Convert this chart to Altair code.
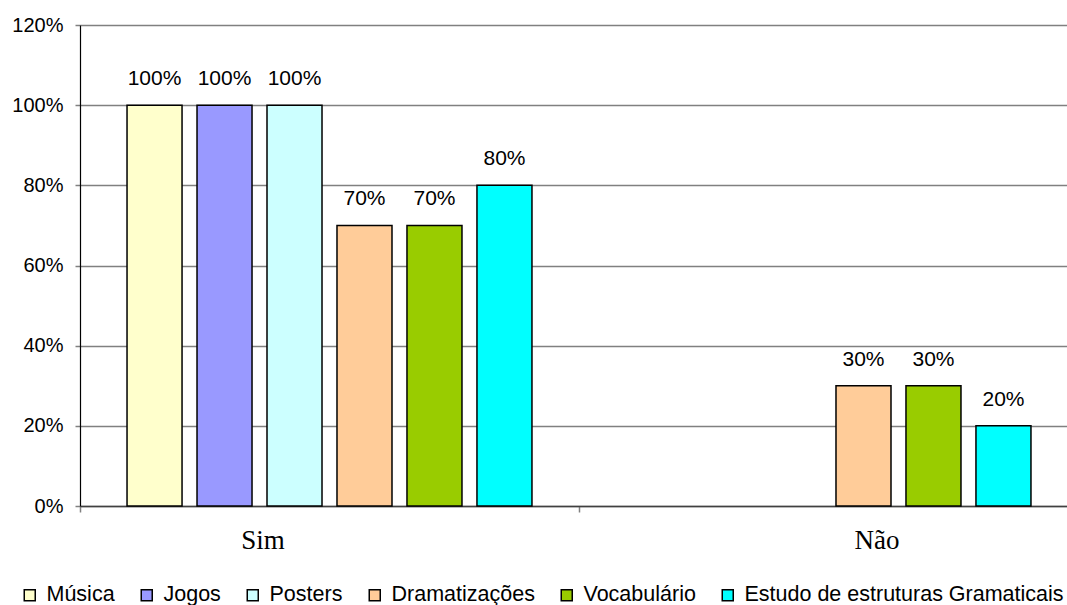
import altair as alt
import pandas as pd

groups = ["Sim", "Não"]
series = ["Música", "Jogos", "Posters", "Dramatizações", "Vocabulário",
          "Estudo de estruturas Gramaticais"]
colors = ["#FFFFCC", "#9999FF", "#CCFFFF", "#FFCC99", "#99CC00", "#00FFFF"]
sim_values = [100, 100, 100, 70, 70, 80]
nao_values = [0, 0, 0, 30, 30, 20]
y_ticks = [0, 20, 40, 60, 80, 100, 120]

rows = []
for g, vals in zip(groups, [sim_values, nao_values]):
    for s, v in zip(series, vals):
        rows.append({"grupo": g, "serie": s, "valor": v})
df = pd.DataFrame(rows)

base = alt.Chart(df).transform_filter("datum.valor > 0").transform_calculate(
    label="datum.valor + '%'"
)

x_enc = alt.X("grupo:N", sort=groups,
              scale=alt.Scale(domain=groups, range=[0, 998], paddingInner=0, paddingOuter=0),
              axis=alt.Axis(title=None, tickBand="extent", labelAngle=0,
                            labelFont="Liberation Serif", labelFontSize=27,
                            labelColor="black", labelBaseline="alphabetic",
                            labelPadding=36, tickSize=6, tickColor="#808080",
                            tickWidth=1.5, domainColor="#404040", domainWidth=1.5,
                            labelOffset={"condition": {"test": "datum.value == 'Sim'", "value": -67},
                                         "value": 48}))
xoff = alt.XOffset("serie:N", sort=series,
                   scale=alt.Scale(domain=series, paddingInner=0.214, paddingOuter=0.672))
y_enc = alt.Y("valor:Q", scale=alt.Scale(domain=[0, 120], nice=False),
              axis=alt.Axis(values=y_ticks, labelExpr="datum.value + '%'", title=None,
                            grid=True, gridColor="#808080", gridWidth=1.5,
                            tickSize=5, tickColor="#808080", tickWidth=1.5,
                            domainColor="#000000", domainWidth=1.2,
                            labelFont="Liberation Sans", labelFontSize=20,
                            labelColor="black", labelPadding=12))

bars = base.mark_bar(stroke="black", strokeWidth=1.5).encode(
    x=x_enc,
    xOffset=xoff,
    y=y_enc,
    color=alt.Color("serie:N", sort=series,
                    scale=alt.Scale(domain=series, range=colors),
                    legend=alt.Legend(title=None, orient="none", direction="horizontal",
                                      columns=6, legendX=-61, legendY=559,
                                      symbolType="square", symbolSize=121,
                                      symbolStrokeColor="black", symbolStrokeWidth=1.5,
                                      symbolOpacity=1, labelLimit=0,
                                      labelFont="Liberation Sans", labelFontSize=21.5,
                                      labelColor="black", labelOffset=6,
                                      columnPadding=21)),
)

labels = base.mark_text(dy=-20, baseline="alphabetic", font="Liberation Sans",
                        fontSize=21, color="black").encode(
    x=x_enc,
    xOffset=xoff,
    y=y_enc,
    text="label:N",
)

chart = alt.layer(bars, labels).properties(
    width=987, height=481,
    autosize=alt.AutoSizeParams(type="none"),
    padding={"left": 80, "top": 25, "right": 0, "bottom": 99},
).configure_view(stroke=None).configure(background="white")

chart.save("out.html", embed_options={"renderer": "svg", "actions": False})
